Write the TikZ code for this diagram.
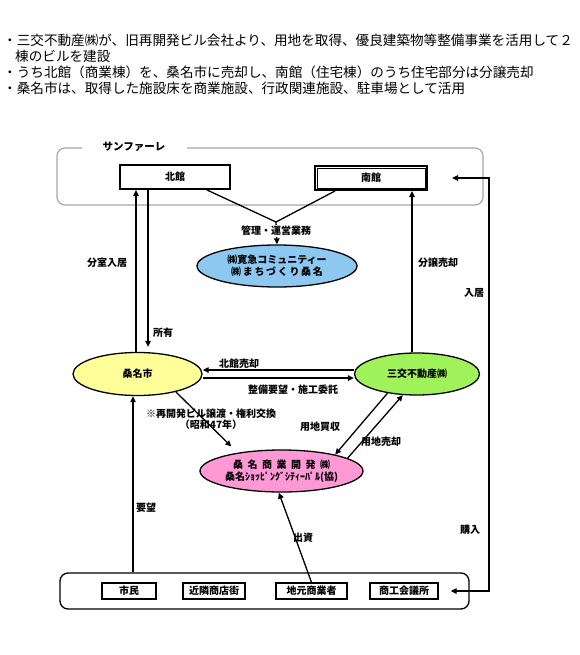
\documentclass[tikz,border=0pt]{standalone}
\usepackage{fontspec}
\setmainfont{Noto Sans CJK JP}
\usetikzlibrary{shapes.geometric,arrows.meta,calc}
\definecolor{yel}{HTML}{FFFF99}
\definecolor{grn}{HTML}{A0F25A}
\definecolor{blu}{HTML}{8CC8F0}
\definecolor{pnk}{HTML}{FF99D6}
\begin{document}
\begin{tikzpicture}[x=1pt,y=-1pt,
  lab/.style={font=\bfseries\fontsize{10}{11.5}\selectfont, inner sep=1pt},
  hdr/.style={font=\fontsize{13.6}{15}\selectfont, anchor=west, inner sep=0pt},
  ln/.style={line width=1.3pt},
  arr/.style={line width=1.3pt, -{Triangle[length=6pt,width=5.5pt]}},
  boxa/.style={draw, line width=2pt, minimum height=24pt, inner sep=0pt, font=\bfseries\fontsize{10}{11.5}\selectfont},
  sbox/.style={draw, line width=1.3pt, minimum height=16pt, inner sep=0pt, font=\bfseries\fontsize{10}{11.5}\selectfont},
  ell/.style={ellipse, draw, line width=1.3pt, inner sep=0pt, align=center, font=\bfseries\fontsize{10}{12}\selectfont}]
\useasboundingbox (0,0) rectangle (580,655);
\fill[white] (0,0) rectangle (580,655);
% header
\node[hdr] (h1) at (3,40) {・三交不動産㈱が、旧再開発ビル会社より、用地を取得、優良建築物等整備事業を活用して２};
\node[hdr] (h2) at (15,56) {棟のビルを建設};
\node[hdr] (h3) at (3,72) {・うち北館（商業棟）を、桑名市に売却し、南館（住宅棟）のうち住宅部分は分譲売却};
\node[hdr] (h4) at (3,88) {・桑名市は、取得した施設床を商業施設、行政関連施設、駐車場として活用};
% Sunfare frame
\draw[gray!70, line width=1.2pt, rounded corners=8pt] (82,148) -- (57,148) -- (57,205) -- (483,205) -- (483,148) -- (187,148);
\node[lab, font=\bfseries\fontsize{10.5}{12}\selectfont] (sf) at (134,147) {サンファーレ};
\node[boxa, minimum width=110pt] (kita) at (175,177) {北館};
\node[boxa, minimum width=112pt] (minami) at (371,178) {南館};
\draw[line width=0.7pt] ($(minami.south west)+(3,-3)$) rectangle ($(minami.north east)+(-3,3)$);
% ellipses
\node[ell, fill=blu, minimum width=160pt, minimum height=42pt] (comm) at (277,266) {㈱寛急コミュニティー\\㈱\,ま\,ち\,づ\,く\,り\,桑\,名};
\node[ell, fill=yel, minimum width=129pt, minimum height=43pt] (kuwana) at (137.5,374) {桑名市};
\node[ell, fill=grn, minimum width=125pt, minimum height=42pt] (sanko) at (417,374) {三交不動産㈱};
\node[ell, fill=pnk, minimum width=163pt, minimum height=42pt] (pink) at (281.5,471) {桑\hspace{0.45em}名\hspace{0.45em}商\hspace{0.45em}業\hspace{0.45em}開\hspace{0.45em}発\hspace{0.45em}㈱\\桑名ｼｮｯﾋﾟﾝｸﾞｼﾃｨｰﾊﾟﾙ(協)};
% bottom group
\node[draw, line width=1.3pt, rounded corners=8pt, minimum width=409pt, minimum height=36pt] (base) at (264.5,591) {};
\node[sbox, minimum width=54pt] (shimin) at (129,591) {市民};
\node[sbox, minimum width=62pt] (kinrin) at (214,591) {近隣商店街};
\node[sbox, minimum width=71pt] (jimoto) at (311.5,591) {地元商業者};
\node[sbox, minimum width=68pt] (shoko) at (404,591) {商工会議所};
% helper coordinates
\coordinate (c133) at (133,0);
\coordinate (c136) at (136,0);
\coordinate (c148) at (148,0);
\coordinate (c412) at (412,0);
\coordinate (rt) at (489,0);
\coordinate (yA) at (0,370);
\coordinate (yB) at (0,378);
\coordinate (meet) at (276,222);
\coordinate (sfin) at (452,178);
% connectors
\draw[ln] ($(kita.south)+(32,0)$) -- (meet) -- ($(minami.south)+(-36,0)$);
\draw[arr] (meet) -- (comm.north);
\node[lab, fill=white] (l1) at (276,231) {管理・運営業務};
\draw[arr] (kuwana.north -| c136) -- (kita.south -| c136);
\draw[arr] (kita.south -| c148) -- ($(kuwana.north -| c148)+(0,-5)$);
\node[lab] (l2) at (107,263) {分室入居};
\node[lab] (l3) at (163,333) {所有};
\draw[arr] (sanko.north -| c412) -- (minami.south -| c412);
\node[lab] (l4) at (438,263) {分譲売却};
\draw[arr] (sanko.west |- yA) -- (kuwana.east |- yA);
\node[lab] (l5) at (239,364) {北館売却};
\draw[arr] (kuwana.east |- yB) -- (sanko.west |- yB);
\node[lab] (l6) at (293,390) {整備要望・施工委託};
\draw[arr] (kuwana.-25) -- ($(pink.160)+(-2,-7)$);
\node[lab, align=center] (l7) at (211,419) {※再開発ビル譲渡・権利交換\\（昭和47年）};
\draw[arr] (sanko.-147) -- (pink.17);
\draw[arr] (pink.11) -- (sanko.-124);
\node[lab] (l8) at (320,427) {用地買収};
\node[lab] (l9) at (381,442) {用地売却};
\draw[arr] (jimoto.north) -- (pink.-97);
\node[lab] (l10) at (303,538) {出資};
\draw[arr] (base.north -| c133) -- (kuwana.south -| c133);
\node[lab] (l11) at (146,508) {要望};
\draw[ln, {Triangle[length=6pt,width=5.5pt]}-{Triangle[length=6pt,width=5.5pt]}] (sfin) -- (rt |- sfin) -- (rt |- shoko.east) -- ($(shoko.east)+(12,0)$);
\node[lab] (l12) at (474,293) {入居};
\node[lab] (l13) at (470,530) {購入};
\end{tikzpicture}
\end{document}
